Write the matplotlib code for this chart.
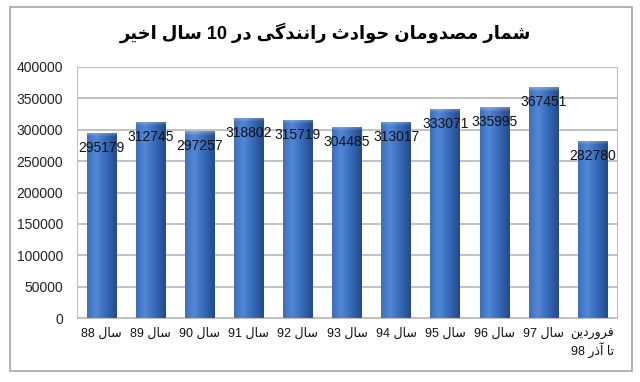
import numpy as np
import matplotlib
matplotlib.use("Agg")
from matplotlib import pyplot as plt
from matplotlib.patches import Rectangle
from matplotlib.colors import to_rgb

# data
years = ["سال 88", "سال 89", "سال 90", "سال 91", "سال 92", "سال 93",
         "سال 94", "سال 95", "سال 96", "سال 97", "فروردین\nتا آذر 98"]
injured = [295179, 312745, 297257, 318802, 315719, 304485,
           313017, 333071, 335995, 367451, 282780]
title = "شمار مصدومان حوادث رانندگی در 10 سال اخیر"

# arabic letter forms: isolated, final, initial, medial
forms = {
    "ا": (0xFE8D, 0xFE8E), "آ": (0xFE81, 0xFE82), "د": (0xFEA9, 0xFEAA),
    "ذ": (0xFEAB, 0xFEAC), "ر": (0xFEAD, 0xFEAE), "و": (0xFEED, 0xFEEE),
    "ت": (0xFE95, 0xFE96, 0xFE97, 0xFE98), "ث": (0xFE99, 0xFE9A, 0xFE9B, 0xFE9C),
    "ح": (0xFEA1, 0xFEA2, 0xFEA3, 0xFEA4), "خ": (0xFEA5, 0xFEA6, 0xFEA7, 0xFEA8),
    "س": (0xFEB1, 0xFEB2, 0xFEB3, 0xFEB4), "ش": (0xFEB5, 0xFEB6, 0xFEB7, 0xFEB8),
    "ص": (0xFEB9, 0xFEBA, 0xFEBB, 0xFEBC), "ف": (0xFED1, 0xFED2, 0xFED3, 0xFED4),
    "ل": (0xFEDD, 0xFEDE, 0xFEDF, 0xFEE0), "م": (0xFEE1, 0xFEE2, 0xFEE3, 0xFEE4),
    "ن": (0xFEE5, 0xFEE6, 0xFEE7, 0xFEE8), "گ": (0xFB92, 0xFB93, 0xFB94, 0xFB95),
    "ی": (0xFBFC, 0xFBFD, 0xFBFE, 0xFBFF),
}


def shape_word(w):
    if w[0] not in forms:
        return w
    out = ""
    for i, c in enumerate(w):
        f = forms[c]
        prev_joins = i > 0 and len(forms[w[i - 1]]) == 4
        next_joins = i < len(w) - 1 and len(f) == 4
        if prev_joins and next_joins:
            k = 3
        elif prev_joins:
            k = 1
        elif next_joins:
            k = 2
        else:
            k = 0
        out += chr(f[k])
    return out[::-1]


def shape(text):
    lines = []
    for line in text.split("\n"):
        lines.append(" ".join(shape_word(w) for w in line.split(" ")[::-1]))
    return "\n".join(lines)


fam = ["Liberation Sans", "DejaVu Sans"]
plt.rcParams["font.family"] = fam

fig = plt.figure(figsize=(6.4, 3.82), dpi=100)
fig.patch.set_facecolor("white")
fig.add_artist(Rectangle((10 / 640, 1 - 371 / 382), 622 / 640, 364 / 382,
                         transform=fig.transFigure, fill=False,
                         edgecolor="#a6a6a6", lw=1.2))
ax = fig.add_axes([77 / 640, 1 - 318 / 382, 540 / 640, 251 / 382])

x = np.arange(len(injured))
bars = ax.bar(x, injured, width=0.6, color="#3a70c0", zorder=2)

# cylinder-like shading for the bars
stops = [0.0, 0.3, 0.65, 1.0]
cols = [to_rgb("#3b70c0"), to_rgb("#5088d6"), to_rgb("#3669b8"), to_rgb("#224c8c")]
xs = np.linspace(0, 1, 30)
prof = np.stack([np.interp(xs, stops, [c[j] for c in cols]) for j in range(3)], axis=-1)
for b in bars:
    h = b.get_height()
    ys = np.linspace(1, 0, 300)
    cap = 7000 / h
    light = np.clip(1 - (1 - ys) / cap, 0, 1)[:, None, None] * 0.3
    img = prof[None, :, :] * (1 - light) + light
    im = ax.imshow(img, extent=(b.get_x(), b.get_x() + b.get_width(), 0, h),
                   aspect="auto", zorder=2, interpolation="antialiased")
    im.set_clip_path(b)
    ax.annotate(str(h), (b.get_x() + b.get_width() / 2, h), xytext=(0, -15),
                textcoords="offset pixels", ha="center", va="center",
                fontsize=10, color="#111111", zorder=3)

ax.set_xlim(-0.5, len(injured) - 0.5)
ax.set_ylim(0, 400000)
ax.set_yticks(range(0, 400001, 50000))
ax.yaxis.grid(True, color="#b0b0b0", lw=1.1, zorder=0)
ax.set_axisbelow(True)
for s in ax.spines.values():
    s.set_color("#c0c0c0")
ax.tick_params(axis="y", length=0, pad=10, labelsize=10, labelcolor="#222222")
ax.set_xticks(x)
ax.set_xticklabels([shape(t) for t in years], fontsize=9, va="top")
ax.tick_params(axis="x", length=0, pad=7, labelcolor="#111111")

fig.text(325 / 640, 1 - 33 / 382, shape(title), ha="center", va="center",
         fontsize=13, fontweight="bold", family=fam)

fig.savefig("out.png", dpi=100)
